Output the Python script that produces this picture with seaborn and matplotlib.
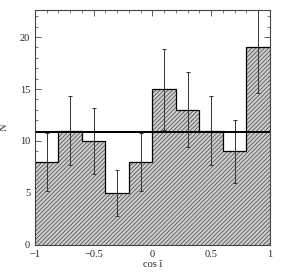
import numpy as np
import matplotlib
matplotlib.use("Agg")
import matplotlib.pyplot as plt
import seaborn as sns
from matplotlib.ticker import MultipleLocator

# histogram of cos(i) in 10 bins
bin_edges = [-1.0, -0.8, -0.6, -0.4, -0.2, 0.0, 0.2, 0.4, 0.6, 0.8, 1.0]
bin_centers = [-0.9, -0.7, -0.5, -0.3, -0.1, 0.1, 0.3, 0.5, 0.7, 0.9]
counts = [8, 11, 10, 5, 8, 15, 13, 11, 9, 19]
errors = [2.8, 3.3, 3.2, 2.2, 2.8, 3.9, 3.6, 3.3, 3.0, 4.4]
mean_level = 10.9

sns.set_style("ticks")
plt.rcParams['font.family'] = ['Liberation Serif', 'DejaVu Serif']
plt.rcParams['hatch.linewidth'] = 0.6

fig = plt.figure(figsize=(2.82, 2.73), dpi=100)
ax = fig.add_axes([0.124, 0.103, 0.833, 0.86])

sns.histplot(x=bin_centers, weights=counts, bins=bin_edges, element="step",
             fill=True, facecolor="#cfcfcf", edgecolor="#555555", hatch="////////",
             linewidth=0, alpha=1, ax=ax)
sns.histplot(x=bin_centers, weights=counts, bins=bin_edges, element="step",
             fill=False, color="black", linewidth=0.9, ax=ax)

ax.errorbar(bin_centers, counts, yerr=errors, fmt="none", ecolor="#333333",
            elinewidth=0.7, capsize=1.5, capthick=0.7)
ax.axhline(mean_level, color="black", linewidth=1.4)

ax.set_xlim(-1, 1)
ax.set_ylim(0, 22.6)
ax.xaxis.set_major_locator(MultipleLocator(0.5))
ax.xaxis.set_minor_locator(MultipleLocator(0.1))
ax.yaxis.set_major_locator(MultipleLocator(5))
ax.yaxis.set_minor_locator(MultipleLocator(1))
ax.set_xticks([-1, -0.5, 0, 0.5, 1])
ax.set_xticklabels(["\u22121", "\u22120.5", "0", "0.5", "1"])
ax.tick_params(which="both", direction="in", top=True, right=True,
               labelsize=7.5, color="#444444")
ax.tick_params(which="major", length=4, width=0.6)
ax.tick_params(which="minor", length=2, width=0.5)
for s in ax.spines.values():
    s.set_linewidth(0.8)
    s.set_color("#444444")

ax.set_xlabel("cos \u0129", fontsize=7.5, labelpad=1)
ax.set_ylabel("N", fontsize=7.5, labelpad=8)

fig.savefig("out.png", dpi=100)
